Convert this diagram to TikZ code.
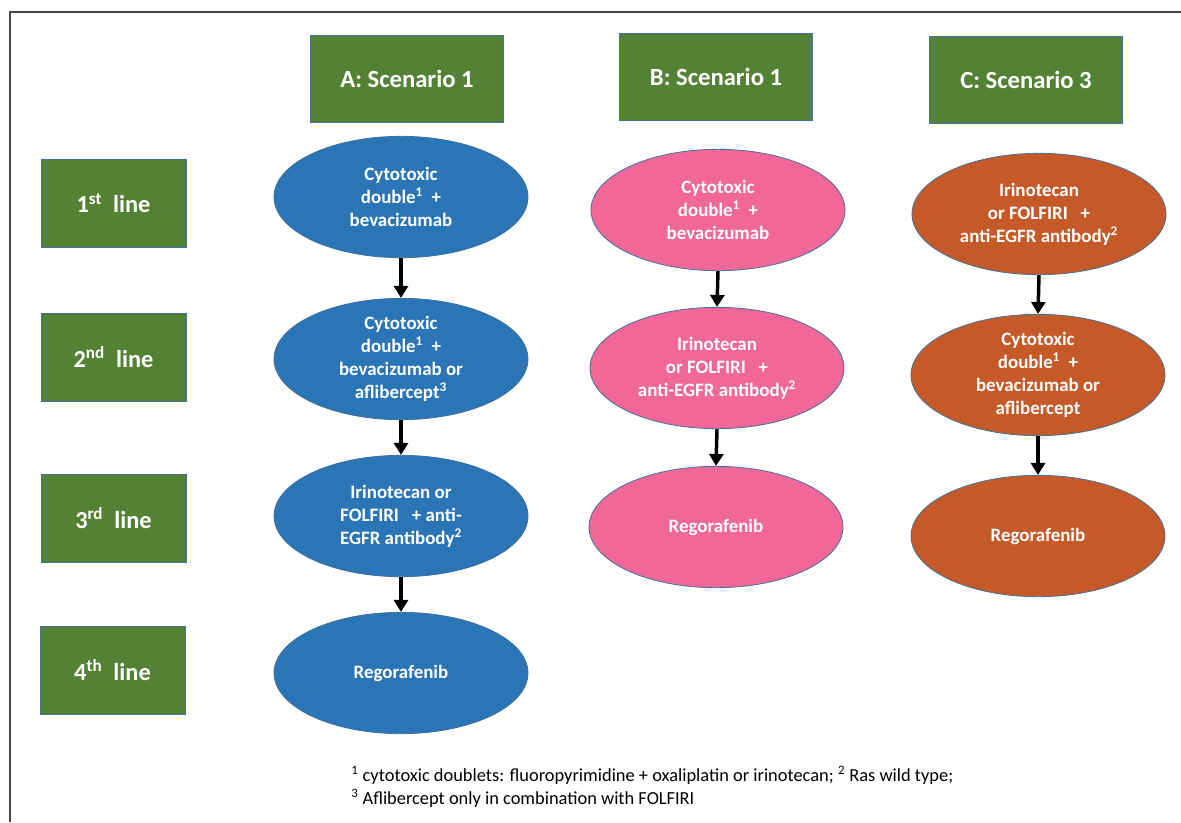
\documentclass[tikz,border=0pt]{standalone}
\usepackage{fontspec}
\setmainfont{Carlito}
\usetikzlibrary{arrows.meta, shapes.geometric}
\definecolor{hgreen}{RGB}{84,130,53}
\definecolor{oblue}{RGB}{65,113,156}
\definecolor{eblue}{RGB}{41,117,182}
\definecolor{epink}{RGB}{240,103,152}
\definecolor{eorange}{RGB}{197,90,40}
\definecolor{fgray}{RGB}{70,70,70}

\begin{document}
\begin{tikzpicture}[x=0.75pt,y=-0.75pt,
  hdr/.style={draw=oblue,fill=hgreen,text=white,font=\fontsize{18.5}{22}\selectfont\bfseries,
              minimum width=144.5pt,minimum height=65.5pt,inner sep=0pt},
  lineb/.style={draw=oblue,fill=hgreen,text=white,font=\fontsize{18.3}{22}\selectfont\bfseries,
              minimum width=108.75pt,minimum height=66pt,inner sep=0pt},
  ell/.style={ellipse,draw=oblue,line width=0.6pt,text=white,align=center,
              font=\fontsize{14.2}{17.3}\selectfont\bfseries,
              minimum width=190.5pt,minimum height=91pt,inner sep=0pt},
  arr/.style={-{Triangle[length=9pt,width=10.5pt]},line width=2.6pt,black}
]
\useasboundingbox (0,0) rectangle (1181,822);
\draw[fgray,line width=1.3pt] (1181,12) -- (10,12) -- (10,822);

% scenario headers
\node[hdr] (ha) at (407,78.5) {A: Scenario 1};
\node[hdr] (hb) at (716,77) {B: Scenario 1};
\node[hdr] (hc) at (1026,79.5) {C: Scenario 3};

% lines of therapy
\node[lineb] (l1) at (113.5,203) {1\textsuperscript{st}\ \ line\hspace{7pt}};
\node[lineb] (l2) at (113.5,357) {2\textsuperscript{nd}\ \ line\hspace{7pt}};
\node[lineb] (l3) at (113.5,518) {3\textsuperscript{rd}\ \ line\hspace{7pt}};
\node[lineb] (l4) at (112.5,670) {4\textsuperscript{th}\ \ line\hspace{7pt}};

% scenario A
\node[ell,fill=eblue] (a1) at (401,197) {Cytotoxic\\double\textsuperscript{1}\ \ +\\bevacizumab};
\node[ell,fill=eblue] (a2) at (401,359) {Cytotoxic\\double\textsuperscript{1}\ \ +\\bevacizumab or\\aflibercept\textsuperscript{3}};
\node[ell,fill=eblue] (a3) at (401,516) {Irinotecan or\\FOLFIRI\ \ \ + anti-\\EGFR antibody\textsuperscript{2}};
\node[ell,fill=eblue] (a4) at (401,673) {Regorafenib};

% scenario B
\node[ell,fill=epink] (b1) at (718,210) {Cytotoxic\\double\textsuperscript{1}\ \ +\\bevacizumab};
\node[ell,fill=epink] (b2) at (717,368) {Irinotecan\\or FOLFIRI\ \ \ +\\anti-EGFR antibody\textsuperscript{2}};
\node[ell,fill=epink] (b3) at (716,527) {Regorafenib};

% scenario C
\node[ell,fill=eorange] (c1) at (1039,214) {Irinotecan\\or FOLFIRI\ \ \ +\\anti-EGFR antibody\textsuperscript{2}};
\node[ell,fill=eorange] (c2) at (1038,375) {Cytotoxic\\double\textsuperscript{1}\ \ +\\bevacizumab or\\aflibercept};
\node[ell,fill=eorange] (c3) at (1038,536) {Regorafenib};

\draw[arr] (a1.south) -- (a2.north); \draw[arr] (a2.south) -- (a3.north);
\draw[arr] (a3.south) -- (a4.north);
\draw[arr] (b1.south) -- (b2.north); \draw[arr] (b2.south) -- (b3.north);
\draw[arr] (c1.south) -- (c2.north); \draw[arr] (c2.south) -- (c3.north);

% footnotes
\node[anchor=west,align=left,inner sep=0pt,font=\fontsize{13.8}{17.3}\selectfont] (fn) at (351,787)
  {\textsuperscript{1} cytotoxic doublets: fluoropyrimidine + oxaliplatin or irinotecan; \textsuperscript{2} Ras wild type;\\
   \textsuperscript{3} Aflibercept only in combination with FOLFIRI};
\end{tikzpicture}
\end{document}
